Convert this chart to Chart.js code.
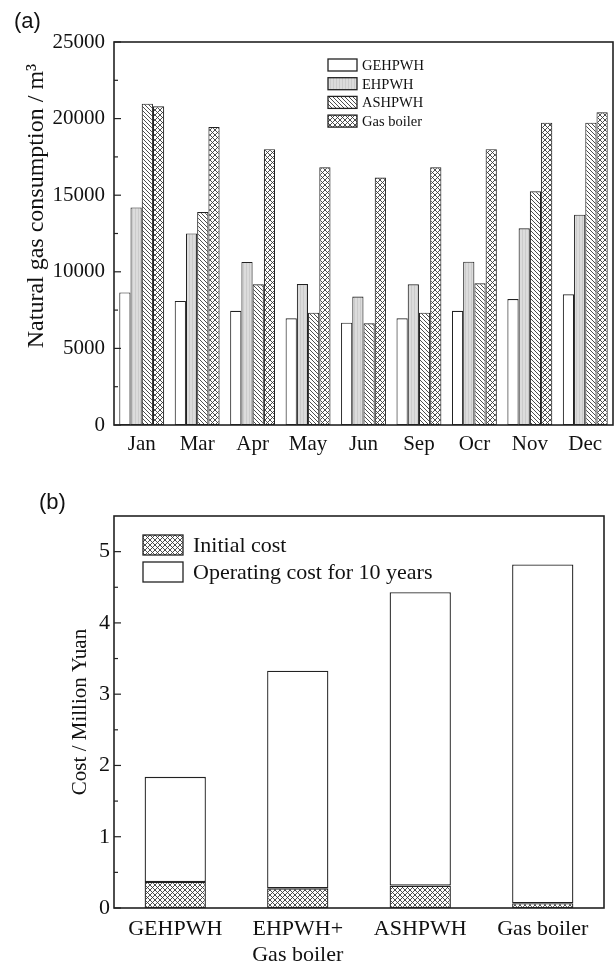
<!DOCTYPE html>
<html>
<head>
<meta charset="utf-8">
<script src="https://cdn.jsdelivr.net/npm/chart.js@4.4.1/dist/chart.umd.min.js"></script>
<style>
  html, body { margin: 0; padding: 0; background: #fff; }
  #wrapA { position: absolute; left: 0; top: 0; width: 616px; height: 480px; }
  #wrapB { position: absolute; left: 0; top: 480px; width: 616px; height: 485px; }
</style>
</head>
<body>
<div id="wrapA"><canvas id="chartA"></canvas></div>
<div id="wrapB"><canvas id="chartB"></canvas></div>
<script>
// (a) monthly natural gas consumption, m3
var months = ['Jan', 'Mar', 'Apr', 'May', 'Jun', 'Sep', 'Ocr', 'Nov', 'Dec'];
var gehpwh = [8650, 8100, 7450, 6960, 6680, 6960, 7450, 8220, 8530];
var ehpwh = [14200, 12500, 10640, 9200, 8380, 9180, 10660, 12840, 13730];
var ashpwh = [20970, 13900, 9180, 7330, 6640, 7330, 9250, 15250, 19730];
var gasBoiler = [20800, 19450, 18000, 16820, 16150, 16820, 18000, 19730, 20410];
var yTicksA = [0, 5000, 10000, 15000, 20000, 25000];

// (b) cost, million yuan
var systems = [['GEHPWH'], ['EHPWH+', 'Gas boiler'], ['ASHPWH'], ['Gas boiler']];
var initialCost = [0.365, 0.276, 0.314, 0.066];
var operatingCost = [1.475, 3.054, 4.116, 4.754];
var yTicksB = [0, 1, 2, 3, 4, 5];

Chart.defaults.font.family = '"Liberation Serif", "Times New Roman", serif';
Chart.defaults.color = '#111';

function makePattern(kind) {
  var c = document.createElement('canvas');
  var s = kind === 'gray' ? 3 : (kind === 'diag' ? 4 : 5);
  c.width = s; c.height = s;
  var g = c.getContext('2d');
  if (kind === 'gray') {
    g.fillStyle = '#dcdcdc';
    g.fillRect(0, 0, s, s);
    g.fillStyle = '#cbcbcb';
    g.fillRect(0, 0, 1, s);
  } else {
    g.fillStyle = '#fff';
    g.fillRect(0, 0, s, s);
    g.strokeStyle = '#3a3a3a';
    g.lineWidth = 0.9;
    for (var k = -1; k <= 1; k++) {
      g.beginPath();
      g.moveTo(k * s, 0); g.lineTo(k * s + s, s);
      g.stroke();
      if (kind === 'cross') {
        g.beginPath();
        g.moveTo(k * s, s); g.lineTo(k * s + s, 0);
        g.stroke();
      }
    }
  }
  return document.createElement('canvas').getContext('2d').createPattern(c, 'repeat');
}

var grayFill = makePattern('gray');
var diagFill = makePattern('diag');
var crossFill = makePattern('cross');

function plainLabel(v) { return String(v); }

// frame, inward ticks, custom legend and titles
var decor = {
  id: 'decor',
  afterDraw: function (chart, args, o) {
    var ctx = chart.ctx, a = chart.chartArea, y = chart.scales.y;
    ctx.save();
    ctx.strokeStyle = '#222';
    ctx.lineWidth = 1.2;
    function line(x1, y1, x2, y2) {
      ctx.beginPath(); ctx.moveTo(x1, y1); ctx.lineTo(x2, y2); ctx.stroke();
    }
    y.ticks.forEach(function (t) {
      var py = y.getPixelForValue(t.value);
      line(a.left, py, a.left + 7, py);
      var half = t.value + o.minor;
      if (half < y.max) {
        var pm = y.getPixelForValue(half);
        line(a.left, pm, a.left + 4, pm);
      }
    });
    ctx.lineWidth = 1.6;
    ctx.strokeRect(a.left, a.top, a.right - a.left, a.bottom - a.top);

    // legend from datasets
    var L = o.legend;
    ctx.textAlign = 'left';
    ctx.textBaseline = 'middle';
    ctx.font = L.font;
    chart.data.datasets.forEach(function (ds, i) {
      var by = L.y + i * L.step;
      ctx.fillStyle = ds.backgroundColor;
      ctx.fillRect(L.x, by, L.w, L.h);
      ctx.lineWidth = 1.3;
      ctx.strokeRect(L.x, by, L.w, L.h);
      ctx.fillStyle = '#111';
      ctx.fillText(ds.label, L.textX, by + L.h / 2 + 1);
    });

    // panel label
    ctx.font = o.panel.font;
    ctx.fillText(o.panel.text, o.panel.x, o.panel.y);

    // y axis title
    ctx.translate(o.yTitle.x, o.yTitle.y);
    ctx.rotate(-Math.PI / 2);
    ctx.textAlign = 'center';
    ctx.font = o.yTitle.font;
    ctx.fillText(o.yTitle.text, 0, 0);
    ctx.restore();
  }
};

new Chart(document.getElementById('chartA'), {
  type: 'bar',
  data: {
    labels: months,
    datasets: [
      { label: 'GEHPWH', data: gehpwh, backgroundColor: '#fff' },
      { label: 'EHPWH', data: ehpwh, backgroundColor: grayFill },
      { label: 'ASHPWH', data: ashpwh, backgroundColor: diagFill },
      { label: 'Gas boiler', data: gasBoiler, backgroundColor: crossFill }
    ]
  },
  options: {
    responsive: true,
    maintainAspectRatio: false,
    animation: false,
    events: [],
    layout: { padding: { top: 42, right: 3, left: 0, bottom: 0 } },
    datasets: {
      bar: { borderColor: '#222', borderWidth: 1.1, borderSkipped: false,
             categoryPercentage: 0.81, barPercentage: 1 }
    },
    scales: {
      x: {
        grid: { display: false, drawTicks: false },
        border: { display: false },
        ticks: { font: { size: 21 }, padding: 7, maxRotation: 0 },
        afterFit: function (s) { s.height = 55; }
      },
      y: {
        min: 0, max: 25000,
        grid: { display: false, drawTicks: false },
        border: { display: false },
        ticks: { font: { size: 21 }, padding: 9, callback: plainLabel },
        afterBuildTicks: function (s) { s.ticks = yTicksA.map(function (v) { return { value: v }; }); },
        afterFit: function (s) { s.width = 114; }
      }
    },
    plugins: {
      legend: { display: false },
      tooltip: { enabled: false },
      decor: {
        minor: 2500,
        legend: { x: 328, y: 59, w: 29, h: 12, step: 18.7, textX: 362,
                  font: '14.5px "Liberation Serif"' },
        panel: { text: '(a)', x: 14, y: 22, font: '22px "Liberation Sans"' },
        yTitle: { text: 'Natural gas consumption / m\u00b3', x: 37, y: 206,
                  font: '24px "Liberation Serif"' }
      }
    }
  },
  plugins: [decor]
});

new Chart(document.getElementById('chartB'), {
  type: 'bar',
  data: {
    labels: systems,
    datasets: [
      { label: 'Initial cost', data: initialCost, backgroundColor: crossFill },
      { label: 'Operating cost for 10 years', data: operatingCost, backgroundColor: '#fff' }
    ]
  },
  options: {
    responsive: true,
    maintainAspectRatio: false,
    animation: false,
    events: [],
    layout: { padding: { top: 36, right: 12, left: 0, bottom: 0 } },
    datasets: {
      bar: { borderColor: '#222', borderWidth: 1.3, borderSkipped: false,
             categoryPercentage: 1, barPercentage: 0.5 }
    },
    scales: {
      x: {
        stacked: true,
        grid: { display: false, drawTicks: false },
        border: { display: false },
        ticks: { font: { size: 22, lineHeight: 1.2 }, padding: 8, maxRotation: 0 },
        afterFit: function (s) { s.height = 57; }
      },
      y: {
        stacked: true,
        min: 0, max: 5.5,
        grid: { display: false, drawTicks: false },
        border: { display: false },
        ticks: { font: { size: 22 }, padding: 4, callback: plainLabel },
        afterBuildTicks: function (s) { s.ticks = yTicksB.map(function (v) { return { value: v }; }); },
        afterFit: function (s) { s.width = 114; }
      }
    },
    plugins: {
      legend: { display: false },
      tooltip: { enabled: false },
      decor: {
        minor: 0.5,
        legend: { x: 143, y: 55, w: 40, h: 20, step: 27, textX: 193,
                  font: '22px "Liberation Serif"' },
        panel: { text: '(b)', x: 39, y: 23, font: '22px "Liberation Sans"' },
        yTitle: { text: 'Cost / Million Yuan', x: 80, y: 232,
                  font: '21px "Liberation Serif"' }
      }
    }
  },
  plugins: [decor]
});
</script>
</body>
</html>
